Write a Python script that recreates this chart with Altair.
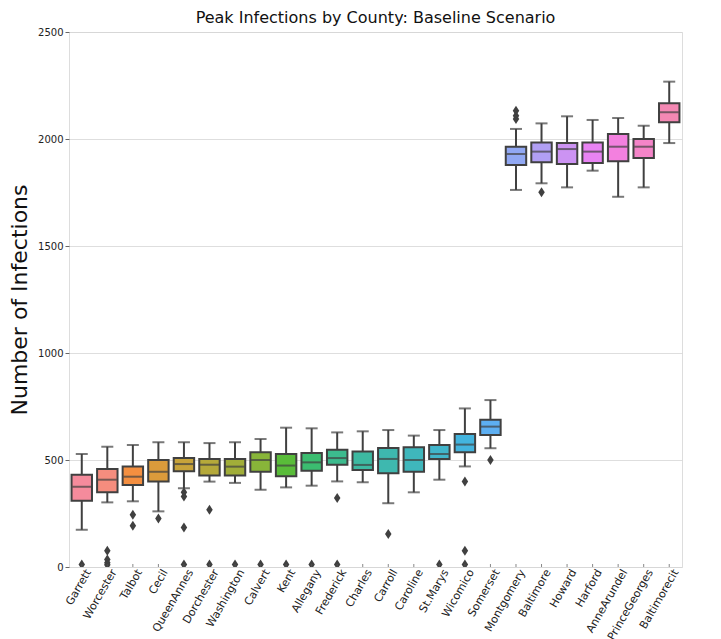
import math
import colorsys
import altair as alt
import pandas as pd

counties = ["Garrett", "Worcester", "Talbot", "Cecil", "QueenAnnes", "Dorchester",
            "Washington", "Calvert", "Kent", "Allegany", "Frederick", "Charles",
            "Carroll", "Caroline", "St.Marys", "Wicomico", "Somerset", "Montgomery",
            "Baltimore", "Howard", "Harford", "AnneArundel", "PrinceGeorges", "Baltimorecit"]
whisker_low = [174, 302, 307, 260, 368, 399, 393, 361, 372, 380, 400, 396,
               298, 349, 408, 470, 555, 1762, 1793, 1774, 1852, 1730, 1774, 1981]
q1 = [310, 349, 383, 399, 447, 427, 427, 445, 424, 450, 478, 453,
      438, 445, 505, 536, 617, 1879, 1891, 1883, 1888, 1896, 1911, 2078]
median = [375, 408, 422, 445, 481, 478, 469, 500, 474, 489, 509, 477,
          505, 500, 528, 572, 656, 1930, 1941, 1953, 1941, 1964, 1964, 2125]
q3 = [431, 458, 470, 500, 509, 505, 505, 536, 528, 533, 548, 540,
      556, 559, 570, 621, 688, 1964, 1984, 1981, 1984, 2023, 2000, 2167]
whisker_high = [528, 562, 570, 583, 583, 579, 583, 598, 651, 648, 629, 634,
                640, 614, 640, 741, 780, 2047, 2073, 2106, 2089, 2098, 2062, 2268]

outlier_county = ["Garrett", "Worcester", "Worcester", "Worcester", "Worcester",
                  "Talbot", "Talbot", "Cecil", "QueenAnnes", "QueenAnnes", "QueenAnnes",
                  "QueenAnnes", "Dorchester", "Dorchester", "Washington", "Calvert", "Kent",
                  "Allegany", "Frederick", "Frederick", "Carroll", "St.Marys", "Wicomico",
                  "Wicomico", "Wicomico", "Somerset", "Montgomery", "Montgomery",
                  "Montgomery", "Baltimore"]
outlier_value = [12, 76, 35, 20, 10,
                 244, 193, 227, 349, 330, 185,
                 12, 268, 12, 12, 12, 12,
                 12, 322, 12, 154, 12, 399,
                 76, 12, 500, 2093, 2109,
                 2132, 1751]

# ---- seaborn-like husl palette (l=.7), lightly desaturated ----
_M = [[3.2406, -1.5372, -0.4986], [-0.9689, 1.8758, 0.0415], [0.0557, -0.2040, 1.0570]]


def _max_chroma(L, H):
    hrad = math.radians(H)
    sinH, cosH = math.sin(hrad), math.cos(hrad)
    sub1 = (L + 16) ** 3 / 1560896.0
    sub2 = sub1 if sub1 > 0.008856 else L / 903.3
    result = float("inf")
    for m1, m2, m3 in _M:
        top = (0.99915 * m1 + 1.05122 * m2 + 1.14460 * m3) * sub2
        rbottom = 0.86330 * m3 - 0.17266 * m2
        lbottom = 0.12949 * m3 - 0.38848 * m1
        bottom = (rbottom * sinH + lbottom * cosH) * sub2
        for t in (0.0, 1.0):
            C = L * (top - 1.05122 * t) / (bottom + 0.17266 * sinH * t)
            if 0.0 < C < result:
                result = C
    return result


def _husl_to_rgb(h, s, l):
    C = _max_chroma(l, h) / 100.0 * s
    hr = math.radians(h)
    U, V = math.cos(hr) * C, math.sin(hr) * C
    t = (l + 16) / 116.0
    varY = t ** 3 if t ** 3 > 0.008856 else (116 * t - 16) / 903.3
    varU = U / (13 * l) + 0.19784
    varV = V / (13 * l) + 0.46834
    Y = varY
    X = 0 - (9 * Y * varU) / ((varU - 4.0) * varV - varU * varV)
    Z = (9 * Y - (15 * varV * Y) - (varV * X)) / (3.0 * varV)
    out = []
    for row in _M:
        c = row[0] * X + row[1] * Y + row[2] * Z
        c = 12.92 * c if c <= 0.0031308 else 1.055 * c ** (1 / 2.4) - 0.055
        out.append(min(max(c, 0.0), 1.0))
    return out


n = len(counties)
box_colors = []
for i in range(n):
    h = ((i / n) + 0.01) % 1 * 359
    r, g, b = _husl_to_rgb(h, 0.9 * 99, 0.7 * 99)
    hh, ll, ss = colorsys.rgb_to_hls(r, g, b)
    r, g, b = colorsys.hls_to_rgb(hh, ll, ss * 0.95)
    box_colors.append("#%02x%02x%02x" % (round(r * 255), round(g * 255), round(b * 255)))
gray = "#404040"

stats = pd.DataFrame({"county": counties, "lo": whisker_low, "q1": q1,
                      "med": median, "q3": q3, "hi": whisker_high})
outs = pd.DataFrame({"county": outlier_county, "value": outlier_value})

xscale = alt.Scale(domain=counties, paddingInner=0, paddingOuter=0)
yscale = alt.Scale(domain=[0, 2500], nice=False)
X = alt.X("county:N", scale=xscale, sort=counties,
          axis=alt.Axis(title=None, labelAngle=300, labelAlign="right", labelBaseline="middle",
                        labelFontSize=11, labelFont="DejaVu Sans", labelColor="#222222",
                        labelPadding=3, labelOffset=7, ticks=False, domain=False))
Y = alt.Y("lo:Q", scale=yscale,
          axis=alt.Axis(title="Number of Infections", values=[0, 500, 1000, 1500, 2000, 2500],
                        format="d", titleFontSize=22, titleFont="DejaVu Sans",
                        titleFontWeight="normal", titleColor="#111111", titlePadding=6,
                        labelFontSize=10, labelFont="DejaVu Sans", labelColor="#222222",
                        tickSize=4, tickColor="#666666", domain=False, grid=True,
                        gridColor="#d6d6d6", gridWidth=0.8))

base = alt.Chart(stats)
whiskers = base.mark_rule(color=gray, strokeWidth=2).encode(x=X, y=Y, y2="hi:Q")
caps_lo = base.mark_tick(color=gray, size=12, thickness=2).encode(x=X, y=alt.Y("lo:Q", scale=yscale))
caps_hi = base.mark_tick(color=gray, size=12, thickness=2).encode(x=X, y=alt.Y("hi:Q", scale=yscale))
boxes = base.mark_bar(width={"band": 0.8}, stroke=gray, strokeWidth=2, opacity=1).encode(
    x=X, y=alt.Y("q1:Q", scale=yscale), y2="q3:Q",
    fill=alt.Fill("county:N", scale=alt.Scale(domain=counties, range=box_colors), legend=None))
medians = base.mark_tick(color=gray, size=19, thickness=2).encode(
    x=X, y=alt.Y("med:Q", scale=yscale))
points = alt.Chart(outs).mark_point(
    shape="M0,-1L0.65,0L0,1L-0.65,0Z", filled=True, color=gray, size=100, opacity=1, clip=True
).encode(x=X, y=alt.Y("value:Q", scale=yscale))
xticks = base.mark_tick(orient="vertical", color="#555555", size=6, thickness=1, clip=True).encode(
    x=X, y=alt.datum(0, scale=yscale))

chart = alt.layer(whiskers, caps_lo, caps_hi, boxes, medians, points, xticks).properties(
    width=613, height=535, padding={"left": 0, "top": 2, "right": 5, "bottom": 5},
    title=alt.TitleParams("Peak Infections by County: Baseline Scenario", fontSize=16,
                          font="DejaVu Sans", fontWeight="normal", color="#111111", offset=1)
).configure_view(fill="#ebebeb", stroke="#d2d2d2", strokeWidth=1).configure(background="white")

chart.save("out.html", embed_options={"renderer": "svg", "actions": False})
